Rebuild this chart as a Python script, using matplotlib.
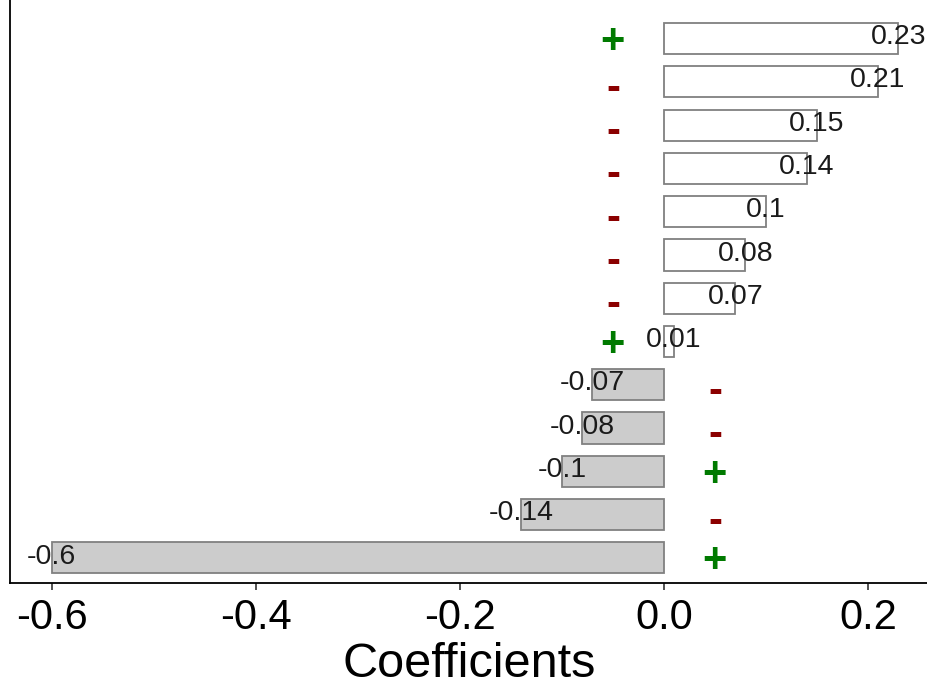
import matplotlib
matplotlib.use('Agg')
import matplotlib.pyplot as plt
import numpy as np

plt.rcParams['font.family'] = ['Liberation Sans', 'DejaVu Sans']
plt.rcParams['axes.unicode_minus'] = False

# values from top to bottom
coefs = [0.23, 0.21, 0.15, 0.14, 0.1, 0.08, 0.07, 0.01, -0.07, -0.08, -0.1, -0.14, -0.6]
labels = ['0.23', '0.21', '0.15', '0.14', '0.1', '0.08', '0.07', '0.01',
          '-0.07', '-0.08', '-0.1', '-0.14', '-0.6']
signs = ['+', '-', '-', '-', '-', '-', '-', '+', '-', '-', '+', '-', '+']

n = len(coefs)
ypos = np.arange(n, 0, -1)

fig = plt.figure(figsize=(9.28, 6.89), dpi=100)
ax = fig.add_axes([10 / 928, 106 / 689, 1 - 10 / 928, 1 - 106 / 689])

fills = ['white' if c > 0 else '#cccccc' for c in coefs]
ax.barh(ypos, coefs, height=0.72, color=fills, edgecolor='#808080', linewidth=1.3)

for y, c, lab, s in zip(ypos, coefs, labels, signs):
    ax.annotate(lab, (c, y), xytext=(0, 1), textcoords='offset points',
                ha='center', va='center', fontsize=20.5, color='#1a1a1a')
    sx = -0.05 if c > 0 else 0.05
    col = '#007a00' if s == '+' else '#8b0000'
    dy = -2.5 if s == '+' else -5
    ax.annotate(s, (sx, y), xytext=(0, dy), textcoords='offset points',
                ha='center', va='center', fontsize=30, fontweight='bold', color=col)

ax.set_xlim(-0.641, 0.259)
ax.set_ylim(0.42, 13.89)
ax.set_xticks([-0.6, -0.4, -0.2, 0.0, 0.2])
ax.set_xticklabels(['-0.6', '-0.4', '-0.2', '0.0', '0.2'])
ax.set_yticks([])
ax.tick_params(axis='x', labelsize=30, length=5, width=1.2, color='#333333', pad=6)
ax.set_xlabel('Coefficients', fontsize=35, labelpad=3)

for side in ['top', 'right']:
    ax.spines[side].set_visible(False)
for side in ['left', 'bottom']:
    ax.spines[side].set_linewidth(1.3)

fig.savefig('out.png', dpi=100)
